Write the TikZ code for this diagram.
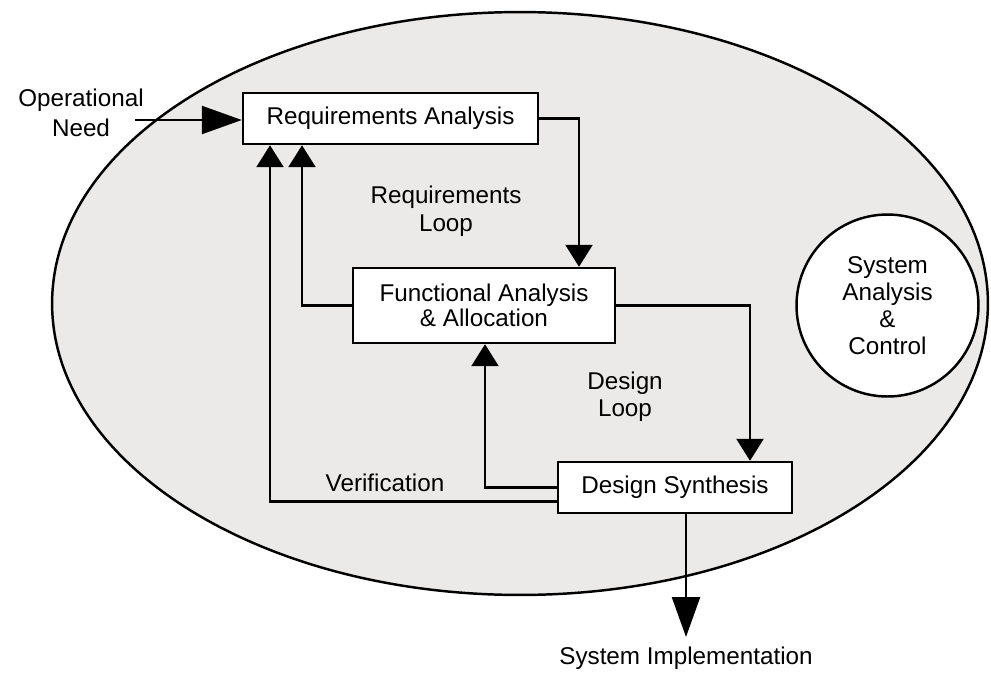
\documentclass[tikz,border=0pt]{standalone}
\usepackage{fontspec}
\setmainfont{Liberation Sans}
\usetikzlibrary{arrows.meta}
\definecolor{ovalgray}{RGB}{236,234,233}

\tikzset{
    box/.style={draw, line width=1.4pt, fill=white, inner sep=0pt},
    lbl/.style={align=center, font=\fontsize{13.8}{15.6}\selectfont},
    arr/.style={line width=1.4pt, -{Triangle[length=0.44cm, width=0.54cm]}},
    bigarr/.style={line width=1.4pt, -{Triangle[length=0.8cm, width=0.56cm]}}
}

\begin{document}
\begin{tikzpicture}[x=0.02cm, y=-0.02cm]
    \useasboundingbox (0,0) rectangle (991,673);

    % Outer oval
    \draw[line width=1.4pt, fill=ovalgray] (520,303.5) ellipse [x radius=9.36cm, y radius=5.83cm];

    % Process boxes
    \node[box, lbl, minimum width=5.9cm, minimum height=1.02cm] (ra) at (390.5,118.5) {Requirements Analysis};
    \node[box, lbl, font=\fontsize{13.8}{11.6}\selectfont, minimum width=5.24cm, minimum height=1.5cm] (fa) at (484,305.5) {Functional Analysis\\\& Allocation};
    \node[box, lbl, minimum width=4.68cm, minimum height=1.02cm] (ds) at (675,487.5) {Design Synthesis};
    \node[draw, circle, line width=1.4pt, fill=white, minimum size=3.64cm, lbl, font=\fontsize{13.8}{15.3}\selectfont] (sac) at (887.5,305.5) {System\\Analysis\\\&\\Control};

    % Labels
    \node[lbl, font=\fontsize{13.8}{17}\selectfont] (need) at (81,113) {Operational\\Need};
    \node[lbl, font=\fontsize{13.8}{16}\selectfont] (rloop) at (446,211) {Requirements\\Loop};
    \node[lbl] (dloop) at (625,397) {Design\\Loop};
    \node[lbl] (verif) at (385,483) {Verification};
    \node[lbl, anchor=north, inner sep=0.2cm] (impl) at (686,637) {System Implementation};

    % Turning points
    \coordinate (opin) at (135,120);
    \coordinate (c1) at (579,0);
    \coordinate (c2) at (302,0);
    \coordinate (c3) at (270,0);
    \coordinate (c4) at (485,0);
    \coordinate (c5) at (750,0);

    % Connectors
    \draw[bigarr] (opin) -- (ra.west |- opin);
    \draw[arr] (ra.east) -| (c1 |- fa.north);
    \draw[arr] (fa.west) -| (c2 |- ra.south);
    \draw[arr] (fa.east) -| (c5 |- ds.north);
    \draw[arr] (ds.west) -| (c4 |- fa.south);
    \draw[arr] ([yshift=-0.28cm]ds.west) -| (c3 |- ra.south);
    \draw[bigarr] (ds.south -| impl.north) -- (impl.north);
\end{tikzpicture}
\end{document}
